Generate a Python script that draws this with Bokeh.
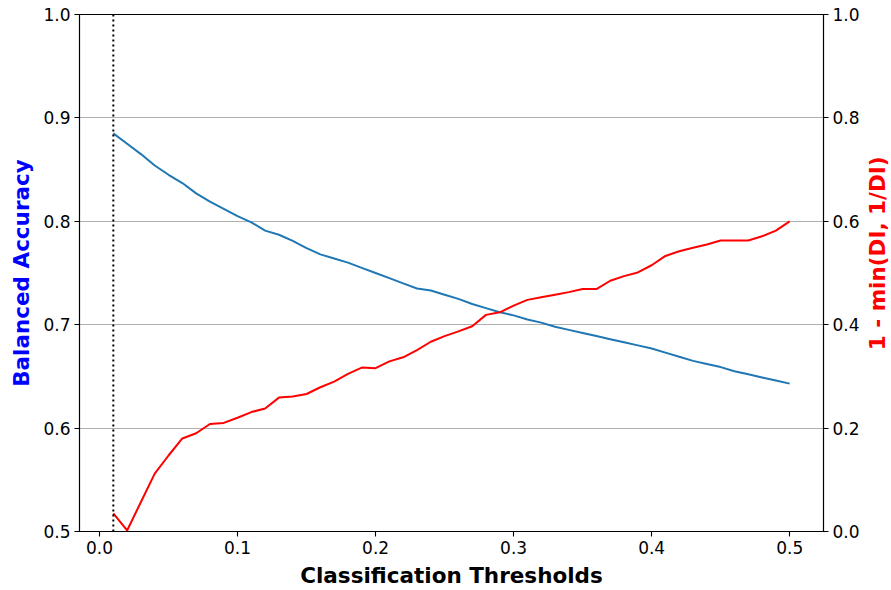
import math
from bokeh.plotting import figure
from bokeh.layouts import row
from bokeh.models import Range1d, LinearAxis, FixedTicker, NumeralTickFormatter, Span
from bokeh.core.properties import value
from bokeh.embed import file_html
from bokeh.resources import INLINE

thresholds = [0.01, 0.02, 0.03, 0.04, 0.05, 0.06, 0.07, 0.08, 0.09, 0.10,
              0.11, 0.12, 0.13, 0.14, 0.15, 0.16, 0.17, 0.18, 0.19, 0.20,
              0.21, 0.22, 0.23, 0.24, 0.25, 0.26, 0.27, 0.28, 0.29, 0.30,
              0.31, 0.32, 0.33, 0.34, 0.35, 0.36, 0.37, 0.38, 0.39, 0.40,
              0.41, 0.42, 0.43, 0.44, 0.45, 0.46, 0.47, 0.48, 0.49, 0.50]

balanced_accuracy = [0.885, 0.875, 0.865, 0.854, 0.845, 0.837, 0.827, 0.819, 0.812, 0.805,
                     0.799, 0.791, 0.787, 0.781, 0.774, 0.768, 0.764, 0.760, 0.755, 0.750,
                     0.745, 0.740, 0.735, 0.733, 0.729, 0.725, 0.720, 0.716, 0.712, 0.709,
                     0.705, 0.702, 0.698, 0.695, 0.692, 0.689, 0.686, 0.683, 0.680, 0.677,
                     0.673, 0.669, 0.665, 0.662, 0.659, 0.655, 0.652, 0.649, 0.646, 0.643]

disparate_impact = [0.035, 0.002, 0.057, 0.112, 0.147, 0.180, 0.190, 0.208, 0.210, 0.220,
                    0.231, 0.238, 0.259, 0.261, 0.266, 0.279, 0.290, 0.305, 0.317, 0.316,
                    0.329, 0.337, 0.351, 0.367, 0.378, 0.387, 0.397, 0.419, 0.424, 0.437,
                    0.448, 0.453, 0.458, 0.463, 0.469, 0.469, 0.485, 0.494, 0.501, 0.515,
                    0.533, 0.542, 0.549, 0.555, 0.563, 0.563, 0.563, 0.571, 0.582, 0.600]

best_threshold = 0.01

x_ticks = [0.0, 0.1, 0.2, 0.3, 0.4, 0.5]
left_ticks = [0.5, 0.6, 0.7, 0.8, 0.9, 1.0]
right_ticks = [0.0, 0.2, 0.4, 0.6, 0.8, 1.0]

x_title = "Classification Thresholds"
left_title = "Balanced Accuracy"
right_title = "1 - min(DI, 1/DI)"

FONT = "DejaVu Sans"
TICK_SIZE = "17px"
LABEL_SIZE = "21.5px"

H = 590
SIDE_W = 28
MAIN_W = 891 - SIDE_W
TOP, BOTTOM = 14, 59

p = figure(width=MAIN_W, height=H, output_backend="svg", toolbar_location=None,
           x_range=Range1d(-0.0145, 0.5245), y_range=Range1d(0.5, 1.0),
           min_border_left=79, min_border_right=891 - 823 - SIDE_W,
           min_border_top=TOP, min_border_bottom=BOTTOM)
p.extra_y_ranges = {"di": Range1d(0.0, 1.0)}

p.outline_line_color = "black"
p.outline_line_width = 1.1
p.outline_line_alpha = 1.0
p.background_fill_color = "white"
p.border_fill_color = "white"

p.xgrid.visible = False
p.ygrid.grid_line_color = "#b0b0b0"
p.ygrid.grid_line_width = 1.1
p.ygrid.ticker = FixedTicker(ticks=left_ticks)

p.line(thresholds, balanced_accuracy, line_color="#1f77b4", line_width=2)
p.line(thresholds, disparate_impact, line_color="red", line_width=2, y_range_name="di")

p.add_layout(Span(location=best_threshold, dimension="height", line_color="black",
                  line_width=2, line_dash="2 3"))

right_axis = LinearAxis(y_range_name="di")
p.add_layout(right_axis, "right")

for ax, ticks in ((p.xaxis[0], x_ticks), (p.yaxis[0], left_ticks), (right_axis, right_ticks)):
    ax.ticker = FixedTicker(ticks=ticks)
    ax.formatter = NumeralTickFormatter(format="0.0")
    ax.minor_tick_line_color = None
    ax.major_tick_out = 5
    ax.major_tick_in = 0
    ax.major_tick_line_color = "black"
    ax.major_tick_line_width = 1.1
    ax.axis_line_color = "black"
    ax.axis_line_width = 1.1
    ax.major_label_text_font = FONT
    ax.major_label_text_font_size = TICK_SIZE
    ax.major_label_text_color = "black"
    ax.major_label_standoff = 4
    ax.axis_label_text_font = FONT
    ax.axis_label_text_font_size = LABEL_SIZE
    ax.axis_label_text_font_style = "bold"
    ax.axis_label_standoff = 6

p.xaxis[0].axis_label = x_title
p.xaxis[0].axis_label_text_color = "black"
p.yaxis[0].axis_label = left_title
p.yaxis[0].axis_label_text_color = "blue"

# narrow strip holding the right-hand axis title, reading bottom-to-top
side = figure(width=SIDE_W, height=H, output_backend="svg", toolbar_location=None,
              x_range=Range1d(0, SIDE_W), y_range=Range1d(H, 0),
              min_border=0, min_border_left=0, min_border_right=0,
              min_border_top=0, min_border_bottom=0)
side.axis.visible = False
side.grid.visible = False
side.outline_line_color = None
side.background_fill_color = "white"
side.border_fill_color = "white"
side.text(x=[SIDE_W / 2], y=[(TOP + (H - BOTTOM)) / 2], text=[right_title],
          angle=math.pi / 2, text_align="center", text_baseline="middle",
          text_font=value(FONT), text_font_size=value(LABEL_SIZE),
          text_font_style="bold", text_color="red")

layout = row(p, side, spacing=0)

open("out.html", "w").write(file_html(layout, INLINE))
